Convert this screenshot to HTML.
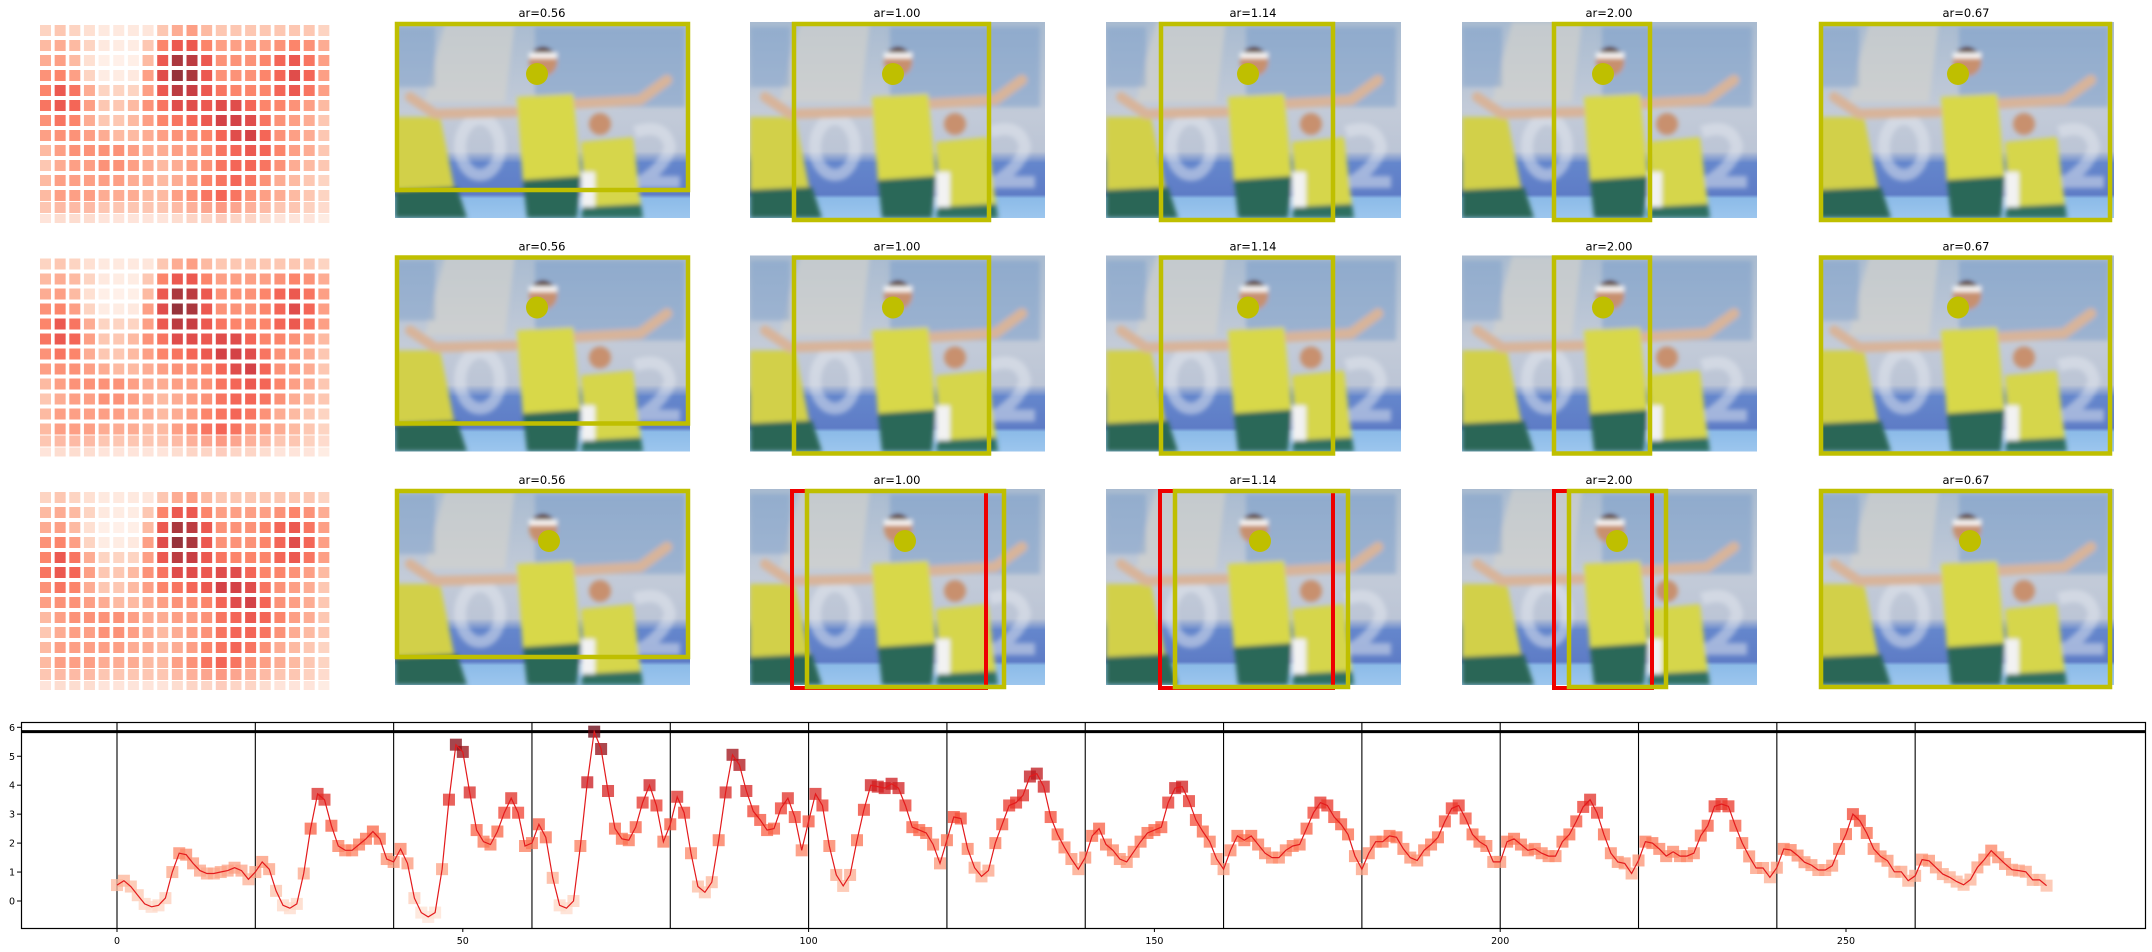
<!DOCTYPE html>
<html><head><meta charset="utf-8"><style>
html,body{margin:0;padding:0;background:#fff;}
svg{display:block;font-family:"DejaVu Sans","Liberation Sans",sans-serif;}
</style></head><body>
<svg id="root" width="2152" height="952" viewBox="0 0 2152 952" xmlns="http://www.w3.org/2000/svg">
<defs>
  <clipPath id="pclip"><rect x="0" y="0" width="295" height="196"/></clipPath>
  <filter id="blur"><feGaussianBlur stdDeviation="2.5"/></filter>
  <linearGradient id="bgGrad" x1="0" y1="0" x2="0" y2="1">
    <stop offset="0" stop-color="#a9bbd0"/>
    <stop offset="0.45" stop-color="#c3cbd8"/>
    <stop offset="0.66" stop-color="#bcc5d6"/>
    <stop offset="0.72" stop-color="#6486cc"/>
    <stop offset="0.88" stop-color="#5e7cc6"/>
    <stop offset="0.9" stop-color="#8cbbe8"/>
    <stop offset="1" stop-color="#9cc6ee"/>
  </linearGradient>
  <g id="photo" clip-path="url(#pclip)">
    <rect x="0" y="0" width="295" height="196" fill="url(#bgGrad)"/>
    <g filter="url(#blur)">
    <polygon points="50,0 120,0 110,80 30,80" fill="#d6d4cc" opacity="0.6"/>
    <rect x="140" y="5" width="150" height="80" fill="#6f97c8" opacity="0.45"/>
    <rect x="0" y="5" width="40" height="60" fill="#6f97c8" opacity="0.4"/>
    <ellipse cx="85" cy="125" rx="20" ry="28" fill="none" stroke="#e6eaf0" stroke-width="12" opacity="0.5"/>
    <path d="M240,110 Q270,100 275,125 Q270,145 245,160 L285,160" fill="none" stroke="#e6eaf0" stroke-width="12" opacity="0.5"/>
    <!-- left player -->
    <polygon points="0,95 45,95 60,170 0,175" fill="#d2d04a"/>
    <polygon points="0,168 62,165 72,196 0,196" fill="#2c6656"/>
    <!-- arms -->
    <path d="M15,75 L40,92 L120,90" fill="none" stroke="#d8b49a" stroke-width="10" stroke-linecap="round"/>
    <path d="M178,82 L245,78 L272,58" fill="none" stroke="#d8b49a" stroke-width="10" stroke-linecap="round"/>
    <!-- main player -->
    <circle cx="148" cy="40" r="14" fill="#c8906e"/>
    <path d="M133,36 Q148,14 163,36" fill="#5a3a28"/>
    <rect x="134" y="31" width="28" height="5" fill="#ffffff"/>
    <polygon points="122,75 178,72 186,155 128,160" fill="#d8d84a"/>
    <polygon points="128,158 186,154 182,196 132,196" fill="#2a6858"/>
    <!-- right player -->
    <circle cx="205" cy="102" r="11" fill="#c8906e"/>
    <polygon points="186,120 238,115 246,185 190,190" fill="#d6d64c"/>
    <polygon points="188,185 246,182 248,196 186,196" fill="#2f7060"/>
    <rect x="186" y="150" width="14" height="35" fill="#f2f2f2"/>
    </g>
  </g>
</defs>
<g id="heatmaps"></g>
<g id="photos"></g>
<g id="chart"></g>
</svg>
<script>
// ---------- chart data ----------
const values = [
0.55,0.7,0.5,0.2,-0.1,-0.2,-0.15,0.1,1.0,1.65,
1.6,1.3,1.05,0.95,0.95,1.0,1.05,1.15,1.05,0.75,
1.0,1.35,1.1,0.35,-0.15,-0.25,-0.1,0.95,2.5,3.7,
3.5,2.6,1.9,1.75,1.75,1.95,2.15,2.4,2.15,1.45,
1.35,1.8,1.3,0.1,-0.4,-0.55,-0.4,1.1,3.5,5.4,
5.15,3.75,2.45,2.05,1.95,2.4,3.05,3.55,3.05,1.9,
2.0,2.65,2.2,0.8,-0.15,-0.25,0.0,1.9,4.1,5.85,
5.25,3.8,2.5,2.15,2.1,2.55,3.4,4.0,3.3,2.05,
2.65,3.6,3.05,1.65,0.5,0.3,0.65,2.1,3.75,5.05,
4.7,3.8,3.1,2.8,2.45,2.5,3.2,3.55,2.9,1.75,
2.75,3.7,3.3,1.9,0.9,0.52,0.9,2.1,3.15,4.0,
3.95,3.9,4.05,3.9,3.3,2.55,2.45,2.35,1.95,1.3,
2.1,2.9,2.85,1.8,1.15,0.85,1.05,2.0,2.65,3.3,
3.4,3.65,4.3,4.4,3.95,2.9,2.3,1.85,1.45,1.1,
1.5,2.25,2.5,1.95,1.75,1.45,1.35,1.7,2.05,2.35,
2.45,2.55,3.4,3.9,3.95,3.45,2.8,2.4,2.05,1.45,
1.1,1.75,2.25,2.1,2.25,1.95,1.65,1.5,1.5,1.75,
1.9,1.95,2.5,3.05,3.4,3.3,2.9,2.65,2.3,1.55,
1.1,1.65,2.05,2.05,2.25,2.2,1.8,1.5,1.4,1.75,
1.95,2.2,2.75,3.2,3.3,2.85,2.3,2.05,1.9,1.35,
1.35,2.05,2.15,1.95,1.75,1.8,1.65,1.55,1.55,2.05,
2.3,2.75,3.25,3.5,3.05,2.3,1.65,1.35,1.3,0.95,
1.4,2.05,2.0,1.8,1.55,1.7,1.55,1.55,1.65,2.26,
2.6,3.27,3.35,3.27,2.6,2.0,1.54,1.14,1.14,0.82,
1.15,1.8,1.76,1.57,1.34,1.24,1.07,1.07,1.22,1.8,
2.31,3.0,2.77,2.35,1.8,1.54,1.39,1.01,1.01,0.7,
0.87,1.43,1.39,1.16,0.93,0.82,0.67,0.56,0.74,1.16,
1.43,1.74,1.51,1.28,1.08,1.05,1.01,0.73,0.73,0.53
];
const xTicks = [0,50,100,150,200,250];
const yTicks = [0,1,2,3,4,5,6];
const segmentLines = [0,20,40,60,80,100,120,140,160,180,200,220,240,260];
const threshold = [5.85];
const titles = ["ar=0.56","ar=1.00","ar=1.14","ar=2.00","ar=0.67"];

const heat = [
[.2,.25,.2,.15,.1,.1,.1,.12,.25,.35,.4,.3,.25,.25,.25,.25,.25,.25,.25,.2],
[.3,.35,.3,.2,.1,.08,.08,.25,.5,.65,.65,.5,.4,.4,.4,.4,.45,.5,.45,.35],
[.35,.4,.3,.15,.06,.05,.06,.3,.65,.9,.85,.65,.45,.45,.45,.5,.6,.65,.55,.4],
[.45,.5,.4,.2,.08,.08,.1,.4,.7,.95,.9,.65,.45,.45,.45,.5,.6,.7,.6,.4],
[.5,.65,.55,.35,.2,.2,.2,.4,.65,.85,.8,.65,.55,.5,.5,.5,.6,.65,.55,.4],
[.55,.65,.6,.4,.25,.25,.3,.45,.55,.7,.7,.65,.7,.7,.6,.5,.5,.45,.4,.3],
[.45,.55,.5,.35,.25,.25,.3,.4,.5,.55,.6,.65,.75,.75,.7,.55,.45,.4,.35,.25],
[.4,.45,.45,.4,.35,.3,.3,.35,.4,.45,.45,.5,.6,.7,.75,.6,.45,.4,.35,.25],
[.3,.4,.45,.45,.45,.45,.4,.35,.35,.4,.4,.45,.55,.6,.65,.6,.5,.4,.35,.25],
[.25,.35,.4,.4,.45,.45,.4,.35,.3,.35,.4,.45,.55,.6,.6,.55,.45,.35,.3,.25],
[.3,.4,.4,.4,.4,.4,.35,.35,.3,.35,.4,.5,.55,.6,.55,.45,.35,.3,.25,.2],
[.3,.4,.4,.4,.35,.35,.35,.3,.3,.4,.45,.55,.6,.55,.45,.4,.35,.3,.25,.2],
[.3,.35,.35,.35,.3,.3,.3,.3,.3,.35,.4,.45,.5,.45,.4,.35,.3,.3,.25,.2],
[.2,.25,.25,.25,.2,.2,.2,.2,.2,.25,.3,.3,.35,.3,.3,.25,.2,.2,.2,.15]
];

const NS = "http://www.w3.org/2000/svg";
function mk(tag, attrs, parent){ const e=document.createElementNS(NS,tag); for(const k in attrs) e.setAttribute(k,attrs[k]); if(parent) parent.appendChild(e); return e; }

const redsStops = ["#fff5f0","#fee0d2","#fcbba1","#fc9272","#fb6a4a","#ef3b2c","#cb181d","#a50f15","#67000d"];
function hex2rgb(h){ return [parseInt(h.substr(1,2),16),parseInt(h.substr(3,2),16),parseInt(h.substr(5,2),16)]; }
function reds(t){ t=Math.max(0,Math.min(1,t)); const p=t*(redsStops.length-1); const i=Math.min(Math.floor(p),redsStops.length-2); const f=p-i; const a=hex2rgb(redsStops[i]), b=hex2rgb(redsStops[i+1]); return "rgb("+a.map((v,k)=>Math.round(v+(b[k]-v)*f)).join(",")+")"; }

// ---------- heatmaps ----------
const hm = document.getElementById('heatmaps');
const panelTops = [0, 233.5, 467];
panelTops.forEach((off, p) => {
  const g = mk('g', {}, hm);
  
  
  heat.forEach((row, r) => {
    let y, h, op = 0.82;
    if (r < 12) { y = 25 + r*15; h = 11; }
    else if (r === 12) { y = 202; h = 11; op = 0.68; }
    else { y = 214; h = 9; op = 0.5; }
    row.forEach((v, c) => {
      const cell = mk('rect', {x: 40 + c*14.65, y: off + y, width: 11, height: h, fill: reds(v), opacity: op}, g);
      
      
    });
  });
});

// ---------- photos ----------
const ph = document.getElementById('photos');
const colX = [395, 750, 1106, 1462, 1819];
const rowY = [22, 255.5, 489];
const YEL = "#bfbf00";
const boxes = [
  [[395,690,0,168],[792,991,0,198],[1159,1335,0,198],[1552,1652,0,198],[1819,2112,0,198]],
  [[395,690,0,168],[792,991,0,198],[1159,1335,0,198],[1552,1652,0,198],[1819,2112,0,198]],
  [[395,690,0,168],[805,1006,0,198],[1173,1350,0,198],[1567,1668,0,198],[1819,2112,0,198]]
];
const redBoxes = [null,[790,988],[1158,1335],[1552,1654],null];
const circlesX = [[537,893,1248,1603,1958],[537,893,1248,1603,1958],[549,905,1260,1617,1970]];
const circlesY = [52,52,52];
rowY.forEach((ry, r) => {
  colX.forEach((cx, c) => {
    const g = mk('g', {}, ph);
    
    
    mk('use', {href: '#photo', x: cx, y: ry}, g);
    const t = mk('text', {x: cx + 147, y: ry - 5, 'text-anchor': 'middle', 'font-size': '11.5', fill: '#000'}, g);
    t.textContent = titles[c];
    
    
    if (r === 2 && redBoxes[c]) {
      const rb = mk('rect', {x: redBoxes[c][0]+2, y: ry+2, width: redBoxes[c][1]-redBoxes[c][0]-4, height: 197, fill: 'none', stroke: '#ee0000', 'stroke-width': 4}, g);
      
      
    }
    const b = boxes[r][c];
    const yb = mk('rect', {x: b[0]+2, y: ry+b[2]+2, width: b[1]-b[0]-4, height: b[3]-b[2]-2, fill: 'none', stroke: YEL, 'stroke-width': 4.5}, g);
    
    
    const ci = mk('circle', {cx: circlesX[r][c], cy: ry + circlesY[r], r: 11, fill: YEL}, g);
    
    
  });
});

// ---------- line chart ----------
const ch = document.getElementById('chart');
const L = 21, R = 2145, T = 722, B = 928;
const xScale = i => 117 + i * 6.916;
const yScale = v => 901 - v * 28.95;
const vmin = Math.min(...values), vmax = Math.max(...values);

const frame = mk('rect', {x: L+0.5, y: T+0.5, width: R-L, height: B-T, fill: '#fff', stroke: '#000', 'stroke-width': 1.2}, ch);



segmentLines.forEach(s => {
  const ln = mk('line', {x1: xScale(s), x2: xScale(s), y1: T, y2: B, stroke: '#000', 'stroke-width': 1.1}, ch);
  
  
});
threshold.forEach(v => {
  const ln = mk('line', {x1: L, x2: R, y1: yScale(v), y2: yScale(v), stroke: '#000', 'stroke-width': 3}, ch);
  
  
});

const mg = mk('g', {}, ch);


values.forEach((v, i) => {
  const t = (v - vmin) / (vmax - vmin);
  const m = mk('rect', {x: xScale(i)-6, y: yScale(v)-6, width: 12, height: 12, fill: reds(0.1 + t*0.9), opacity: 0.75}, mg);
  
  
});
const line = mk('polyline', {points: values.map((v,i)=>xScale(i).toFixed(1)+','+yScale(v).toFixed(1)).join(' '), fill: 'none', stroke: '#e31a1c', 'stroke-width': 1.2}, ch);



xTicks.forEach(v => {
  const x = xScale(v);
  const tk = mk('line', {x1: x, x2: x, y1: B, y2: B+4, stroke: '#000'}, ch);
  
  
  const lb = mk('text', {x: x, y: B+16, 'text-anchor': 'middle', 'font-size': '9.5', fill: '#000'}, ch);
  lb.textContent = v;
  
  
});
yTicks.forEach(v => {
  const y = yScale(v);
  const tk = mk('line', {x1: L-4, x2: L, y1: y, y2: y, stroke: '#000'}, ch);
  
  
  const lb = mk('text', {x: L-6, y: y+3.5, 'text-anchor': 'end', 'font-size': '9.5', fill: '#000'}, ch);
  lb.textContent = v;
  
  
});
</script>
</body></html>
